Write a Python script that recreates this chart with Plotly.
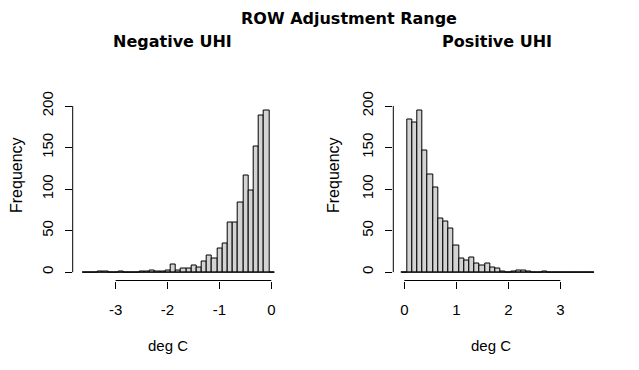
import numpy as np
import plotly.graph_objects as go

# ---- data ----
bin_width = 0.1
neg_first_edge = -3.64
pos_first_edge = -0.05
neg_counts = [0, 0, 0, 1, 1, 0, 0, 1, 0, 0, 0, 1, 1, 2, 1, 1, 2, 9, 2, 4, 4, 8, 6,
              13, 20, 17, 28, 35, 60, 60, 84, 116, 98, 151, 188, 194, 0]
pos_counts = [0, 184, 180, 194, 147, 118, 102, 65, 61, 52, 32, 16, 14, 18, 11, 8, 10,
              6, 4, 1, 0, 1, 2, 2, 1, 0, 0, 1, 0, 0, 0, 0, 0, 0, 0, 0, 0]
neg_xticks = [-3, -2, -1, 0]
neg_xticklabels = ["-3", "-2", "-1", "0"]
pos_xticks = [0, 1, 2, 3]
pos_xticklabels = ["0", "1", "2", "3"]
yticks = [0, 50, 100, 150, 200]
yticklabels = ["0", "50", "100", "150", "200"]
main_title = "ROW Adjustment Range"
sub_titles = ["Negative UHI", "Positive UHI"]
xlab = "deg C"
ylab = "Frequency"

W, H = 639, 370
OFF = 8  # page body margin
def px(x):
    return (x - OFF) / W
def py(y):
    return (H - (y - OFF)) / H

neg_edges = neg_first_edge + bin_width * np.arange(len(neg_counts) + 1)
pos_edges = pos_first_edge + bin_width * np.arange(len(pos_counts) + 1)
neg_centers = (neg_edges[:-1] + neg_edges[1:]) / 2
pos_centers = (pos_edges[:-1] + pos_edges[1:]) / 2

BAR = "#D3D3D3"
fig = go.Figure()
fig.add_trace(go.Bar(x=neg_centers, y=neg_counts, width=bin_width,
                     marker=dict(color=BAR, line=dict(color="black", width=1)),
                     xaxis="x", yaxis="y", showlegend=False, hoverinfo="skip"))
fig.add_trace(go.Bar(x=pos_centers, y=pos_counts, width=bin_width,
                     marker=dict(color=BAR, line=dict(color="black", width=1)),
                     xaxis="x2", yaxis="y2", showlegend=False, hoverinfo="skip"))

XFONT = dict(family="Liberation Sans Narrow, Arial Narrow, Liberation Sans, sans-serif",
             size=15, color="black")
YFONT = dict(family="Liberation Sans, Arial, sans-serif", size=15, color="black")
TFONT = dict(family="DejaVu Sans, Liberation Sans, sans-serif", size=16, color="black")

ydom = [py(280.5), py(104.5)]
yrange = [-10.0, 201.8]
common_x = dict(showline=False, showgrid=False, zeroline=False, ticks="outside",
                ticklen=7, tickwidth=1, tickcolor="black", tickfont=XFONT,
                ticklabelstandoff=8, automargin=False)
common_y = dict(showline=False, showgrid=False, zeroline=False, ticks="outside",
                ticklen=7, tickwidth=1, tickcolor="black", tickfont=YFONT,
                tickangle=-90, range=yrange, domain=ydom, automargin=False,
                tickvals=yticks, ticktext=yticklabels, ticklabelstandoff=6)

fig.update_layout(
    width=W, height=H, autosize=False,
    margin=dict(l=0, r=0, t=0, b=0, pad=0, autoexpand=False),
    paper_bgcolor="white", plot_bgcolor="white",
    bargap=0,
    xaxis=dict(domain=[px(72.7), px(282.1)], range=[-3.827, 0.208],
               tickvals=neg_xticks, ticktext=neg_xticklabels, anchor="y", **common_x),
    yaxis=dict(anchor="x", **common_y),
    xaxis2=dict(domain=[px(393.3), px(601.8)], range=[-0.212, 3.798],
                tickvals=pos_xticks, ticktext=pos_xticklabels, anchor="y2", **common_x),
    yaxis2=dict(anchor="x2", **common_y),
)

shapes = []
for xa, ya, edges, xt in (("x", "y", neg_edges, neg_xticks), ("x2", "y2", pos_edges, pos_xticks)):
    # zero-count bins show as a baseline, as in R's hist
    shapes.append(dict(type="line", xref=xa, yref=ya, x0=edges[0], x1=edges[-1], y0=0, y1=0,
                       line=dict(color="black", width=1)))
    # R-style axis lines spanning first to last tick
    shapes.append(dict(type="line", xref=xa, yref=ya + " domain", x0=xt[0], x1=xt[-1], y0=0, y1=0,
                       line=dict(color="black", width=1)))
    shapes.append(dict(type="line", xref=xa + " domain", yref=ya, x0=0, x1=0, y0=yticks[0], y1=yticks[-1],
                       line=dict(color="black", width=1)))
fig.update_layout(shapes=shapes)

ann = []
ann.append(dict(text="<b>%s</b>" % main_title, x=px(349), y=1.0, xref="paper", yref="paper",
                showarrow=False, xanchor="center", yanchor="top", borderpad=0, font=TFONT))
for cx, t in zip((172, 497), sub_titles):
    ann.append(dict(text="<b>%s</b>" % t, x=px(cx), y=py(42), xref="paper", yref="paper",
                    showarrow=False, xanchor="center", yanchor="middle", font=TFONT))
for cx in (168, 490.5):
    ann.append(dict(text=xlab, x=px(cx), y=py(345), xref="paper", yref="paper",
                    showarrow=False, xanchor="center", yanchor="middle",
                    font=dict(XFONT, size=15)))
for cx in (16, 333):
    ann.append(dict(text=ylab, x=px(cx), y=py(175), xref="paper", yref="paper",
                    showarrow=False, xanchor="center", yanchor="middle", textangle=-90,
                    font=dict(YFONT, size=16)))
fig.update_layout(annotations=ann)

fig.write_html("out.html")
